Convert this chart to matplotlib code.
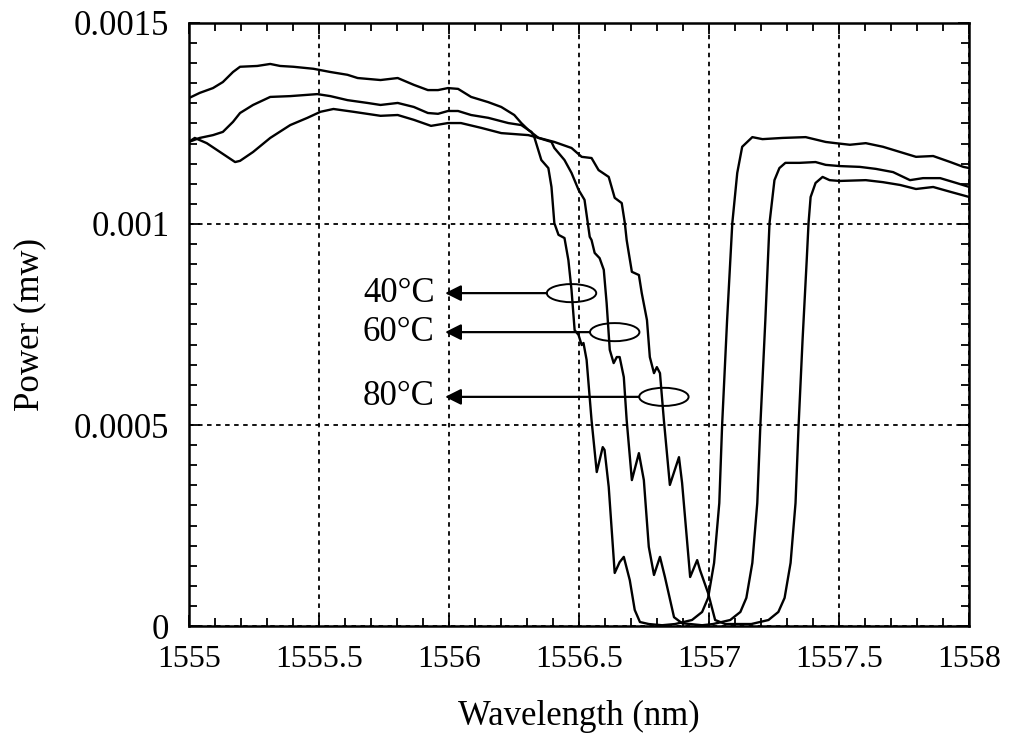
import numpy as np
import matplotlib
matplotlib.use("Agg")
import matplotlib.pyplot as plt
from matplotlib.patches import Ellipse
from matplotlib.ticker import MultipleLocator

plt.rcParams['font.family'] = ['Liberation Serif', 'DejaVu Serif']

# 40 C curve
wl_40 = [1555.0, 1555.042, 1555.093, 1555.131, 1555.170, 1555.197, 1555.263, 1555.313, 1555.351,
         1555.402, 1555.479, 1555.544, 1555.610, 1555.649, 1555.737, 1555.803, 1555.865, 1555.919,
         1555.958, 1555.996, 1556.035, 1556.085, 1556.151, 1556.201, 1556.251, 1556.278, 1556.305,
         1556.317, 1556.328, 1556.355, 1556.382, 1556.394, 1556.405, 1556.421, 1556.444, 1556.459,
         1556.471, 1556.483, 1556.498, 1556.510, 1556.517, 1556.529, 1556.548, 1556.568, 1556.591,
         1556.598, 1556.614, 1556.637, 1556.656, 1556.672, 1556.695, 1556.714, 1556.734, 1556.768,
         1556.819, 1556.869, 1556.934, 1556.973, 1556.996, 1557.019, 1557.039, 1557.050, 1557.069,
         1557.089, 1557.108, 1557.127, 1557.166, 1557.205, 1557.282, 1557.371, 1557.448, 1557.486,
         1557.541, 1557.602, 1557.668, 1557.734, 1557.795, 1557.861, 1557.927, 1557.977, 1558.0]
p_40 = [1.313, 1.326, 1.338, 1.353, 1.378, 1.391, 1.393, 1.398, 1.393,
        1.391, 1.386, 1.378, 1.371, 1.363, 1.358, 1.363, 1.346, 1.333,
        1.333, 1.338, 1.336, 1.316, 1.303, 1.291, 1.271, 1.251, 1.234,
        1.229, 1.216, 1.159, 1.139, 1.092, 1.002, 0.973, 0.965, 0.910,
        0.836, 0.736, 0.724, 0.699, 0.704, 0.662, 0.512, 0.383, 0.445,
        0.438, 0.346, 0.132, 0.159, 0.172, 0.114, 0.040, 0.010, 0.005,
        0.002, 0.005, 0.015, 0.035, 0.070, 0.157, 0.306, 0.502, 0.761,
        1.002, 1.127, 1.192, 1.216, 1.211, 1.214, 1.216, 1.204, 1.201,
        1.197, 1.201, 1.192, 1.179, 1.167, 1.169, 1.154, 1.142, 1.139]

# 60 C curve
wl_60 = [1555.0, 1555.042, 1555.093, 1555.131, 1555.170, 1555.197, 1555.247, 1555.313, 1555.390,
         1555.494, 1555.544, 1555.610, 1555.687, 1555.737, 1555.803, 1555.865, 1555.919, 1555.958,
         1555.996, 1556.035, 1556.085, 1556.151, 1556.228, 1556.278, 1556.305, 1556.344, 1556.394,
         1556.405, 1556.444, 1556.471, 1556.498, 1556.521, 1556.541, 1556.548, 1556.560, 1556.579,
         1556.595, 1556.606, 1556.618, 1556.633, 1556.645, 1556.656, 1556.672, 1556.683, 1556.703,
         1556.730, 1556.749, 1556.768, 1556.788, 1556.811, 1556.830, 1556.865, 1556.896, 1556.973,
         1557.015, 1557.081, 1557.120, 1557.143, 1557.166, 1557.185, 1557.197, 1557.216, 1557.232,
         1557.251, 1557.270, 1557.293, 1557.347, 1557.409, 1557.448, 1557.502, 1557.579, 1557.641,
         1557.707, 1557.772, 1557.822, 1557.888, 1557.950, 1558.0]
p_60 = [1.204, 1.214, 1.221, 1.229, 1.254, 1.276, 1.296, 1.316, 1.318,
        1.323, 1.318, 1.308, 1.301, 1.296, 1.301, 1.291, 1.276, 1.274,
        1.281, 1.281, 1.271, 1.264, 1.251, 1.246, 1.234, 1.214, 1.204,
        1.189, 1.159, 1.127, 1.085, 1.060, 0.968, 0.960, 0.928, 0.915,
        0.886, 0.803, 0.687, 0.654, 0.669, 0.669, 0.619, 0.512, 0.363,
        0.430, 0.363, 0.197, 0.127, 0.172, 0.122, 0.022, 0.007, 0.002,
        0.005, 0.015, 0.035, 0.070, 0.157, 0.306, 0.502, 0.761, 1.002,
        1.109, 1.139, 1.152, 1.152, 1.154, 1.147, 1.144, 1.142, 1.137,
        1.129, 1.109, 1.114, 1.114, 1.102, 1.092]

# 80 C curve
wl_80 = [1555.0, 1555.023, 1555.069, 1555.120, 1555.178, 1555.197, 1555.247, 1555.313, 1555.390,
         1555.456, 1555.506, 1555.556, 1555.633, 1555.737, 1555.803, 1555.865, 1555.931, 1555.996,
         1556.046, 1556.124, 1556.201, 1556.305, 1556.405, 1556.471, 1556.510, 1556.548, 1556.575,
         1556.614, 1556.637, 1556.664, 1556.676, 1556.683, 1556.691, 1556.703, 1556.730, 1556.741,
         1556.761, 1556.772, 1556.788, 1556.799, 1556.811, 1556.826, 1556.849, 1556.884, 1556.896,
         1556.927, 1556.954, 1556.965, 1556.996, 1557.023, 1557.062, 1557.162, 1557.228, 1557.266,
         1557.290, 1557.313, 1557.332, 1557.344, 1557.359, 1557.375, 1557.382, 1557.390, 1557.409,
         1557.436, 1557.463, 1557.502, 1557.602, 1557.668, 1557.734, 1557.795, 1557.861, 1557.927,
         1558.0]
p_80 = [1.204, 1.214, 1.201, 1.179, 1.154, 1.157, 1.179, 1.214, 1.246,
        1.264, 1.279, 1.286, 1.279, 1.269, 1.271, 1.259, 1.244, 1.251,
        1.251, 1.239, 1.226, 1.221, 1.204, 1.189, 1.167, 1.164, 1.134,
        1.117, 1.065, 1.052, 1.002, 0.960, 0.928, 0.881, 0.873, 0.828,
        0.761, 0.669, 0.629, 0.644, 0.629, 0.512, 0.351, 0.420, 0.356,
        0.122, 0.164, 0.139, 0.082, 0.015, 0.005, 0.005, 0.015, 0.035,
        0.070, 0.157, 0.306, 0.502, 0.711, 0.910, 1.002, 1.067, 1.102,
        1.117, 1.109, 1.107, 1.109, 1.104, 1.097, 1.087, 1.092, 1.080,
        1.067]

labels = ['40°C', '60°C', '80°C']
# ellipse centres (wavelength, power in mW) marking each curve
marks_wl = [1556.471, 1556.637, 1556.826]
marks_p = [0.828e-3, 0.731e-3, 0.570e-3]

xticks = [1555, 1555.5, 1556, 1556.5, 1557, 1557.5, 1558]
xticklabels = ['1555', '1555.5', '1556', '1556.5', '1557', '1557.5', '1558']
yticks = [0, 0.0005, 0.001, 0.0015]
yticklabels = ['0', '0.0005', '0.001', '0.0015']

fig = plt.figure(figsize=(10.15, 7.4), dpi=100)
ax = fig.add_axes([0.186, 0.154, 0.769, 0.815])

for wl, p in [(wl_40, p_40), (wl_60, p_60), (wl_80, p_80)]:
    ax.plot(wl, np.array(p) * 1e-3, color='black', lw=1.7)

ax.set_xlim(1555, 1558)
ax.set_ylim(0, 0.0015)
ax.set_xticks(xticks)
ax.set_xticklabels(xticklabels)
ax.set_yticks(yticks)
ax.set_yticklabels(yticklabels)
ax.xaxis.set_minor_locator(MultipleLocator(0.1))
ax.yaxis.set_minor_locator(MultipleLocator(0.00005))
ax.tick_params(which='both', direction='in', top=True, right=True, width=1.3)
ax.tick_params(which='major', length=8)
ax.tick_params(which='minor', length=6)
ax.tick_params(axis='x', pad=14, labelsize=23)
ax.tick_params(axis='y', pad=14, labelsize=25)
for s in ax.spines.values():
    s.set_linewidth(1.8)

ax.grid(True, which='major', color='black', lw=1.3, linestyle=(0, (2.5, 2.5)))

ax.set_xlabel('Wavelength (nm)', fontsize=25, labelpad=18)
ax.set_ylabel('Power (mw)', fontsize=25, labelpad=20)

for lab, mx, my in zip(labels, marks_wl, marks_p):
    ew = 0.19
    ax.add_patch(Ellipse((mx, my), ew, 0.000045, fill=False, ec='black', lw=1.4, zorder=4))
    ax.annotate('', xy=(1555.985, my), xytext=(mx - ew / 2, my),
                arrowprops=dict(arrowstyle='-|>', color='black', lw=1.6,
                                mutation_scale=24, shrinkA=0, shrinkB=0))
    ax.text(1555.945, my, lab, ha='right', va='center', fontsize=25,
            bbox=dict(facecolor='white', edgecolor='none', pad=1))

fig.savefig('out.png', dpi=100)
